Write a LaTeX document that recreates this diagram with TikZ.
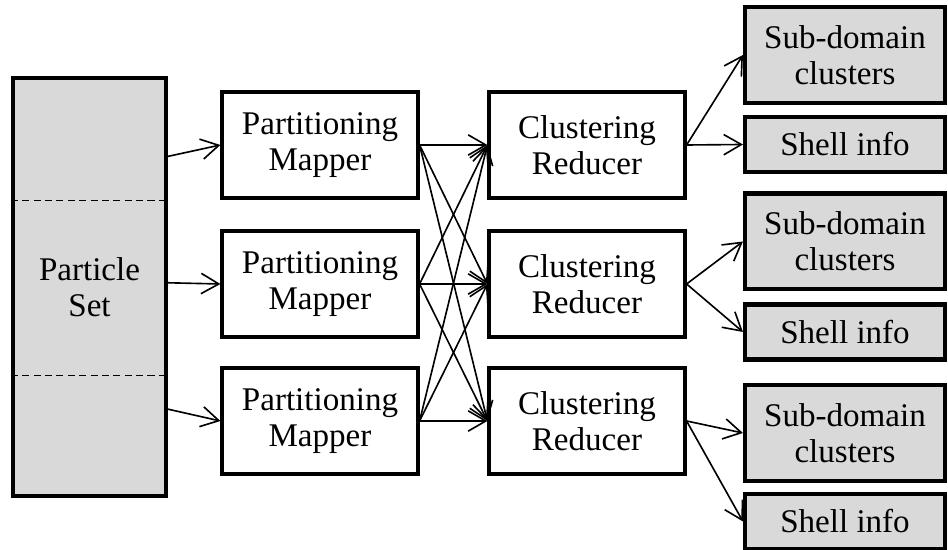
\documentclass[tikz,border=0pt]{standalone}
\usepackage{fontspec}
\setmainfont{Liberation Serif}
\usetikzlibrary{arrows.meta}
\usetikzlibrary{calc}
\definecolor{setgray}{RGB}{217,217,217}

\begin{document}
\begin{tikzpicture}[x=0.369pt, y=-0.369pt,
    box/.style={draw, line width=1.5pt, align=center, inner sep=0pt,
      font=\fontsize{12.2}{13.3}\selectfont},
    stagebox/.style={box, minimum width=72pt, minimum height=39pt},
    outbox/.style={box, fill=setgray, minimum width=73.8pt},
    flow/.style={line width=0.6pt, -{Straight Barb[length=6.5pt, width=7.5pt]}}]
      \def\mapx{320}
      \def\redx{587}
      \def\outx{845}

      \useasboundingbox (0,0) rectangle (948,550);

      % input set
      \node[box, fill=setgray, minimum width=56.5pt, minimum height=154pt] (ps) at (89.5,287) {Particle\\Set};
      \draw[line width=0.6pt, dash pattern=on 2.6pt off 1.6pt] ($(ps.north west)!0.295!(ps.south west)$) -- ($(ps.north east)!0.295!(ps.south east)$);
      \draw[line width=0.6pt, dash pattern=on 2.6pt off 1.6pt] ($(ps.north west)!0.71!(ps.south west)$) -- ($(ps.north east)!0.71!(ps.south east)$);

      % mappers and reducers
      \node[stagebox] (map1) at (\mapx,145) {Partitioning\\Mapper};
      \node[stagebox] (map2) at (\mapx,284) {Partitioning\\Mapper};
      \node[stagebox] (map3) at (\mapx,421) {Partitioning\\Mapper};
      \node[stagebox] (red1) at (\redx,145) {Clustering\\Reducer};
      \node[stagebox] (red2) at (\redx,284) {Clustering\\Reducer};
      \node[stagebox] (red3) at (\redx,421) {Clustering\\Reducer};

      % outputs
      \node[outbox, minimum height=35.4pt] (sub1) at (\outx,55) {Sub-domain\\clusters};
      \node[outbox, minimum height=20.3pt] (shell1) at (\outx,144.5) {Shell info};
      \node[outbox, minimum height=35.4pt] (sub2) at (\outx,241.5) {Sub-domain\\clusters};
      \node[outbox, minimum height=20.3pt] (shell2) at (\outx,332) {Shell info};
      \node[outbox, minimum height=35.4pt] (sub3) at (\outx,433) {Sub-domain\\clusters};
      \node[outbox, minimum height=20.3pt] (shell3) at (\outx,521.5) {Shell info};

      \draw[flow] ($(ps.north east)!0.19!(ps.south east)$) -- (map1.west);
      \draw[flow] ($(ps.north east)!0.49!(ps.south east)$) -- (map2.west);
      \draw[flow] ($(ps.north east)!0.79!(ps.south east)$) -- (map3.west);

      \foreach \i in {1,2,3}
        \foreach \j in {1,2,3}
          \draw[flow] (map\i.east) -- (red\j.west);

      \foreach \i in {1,2,3} {
        \draw[flow] (red\i.east) -- (sub\i.west);
        \draw[flow] (red\i.east) -- (shell\i.west);
      }

    \end{tikzpicture}
\end{document}
